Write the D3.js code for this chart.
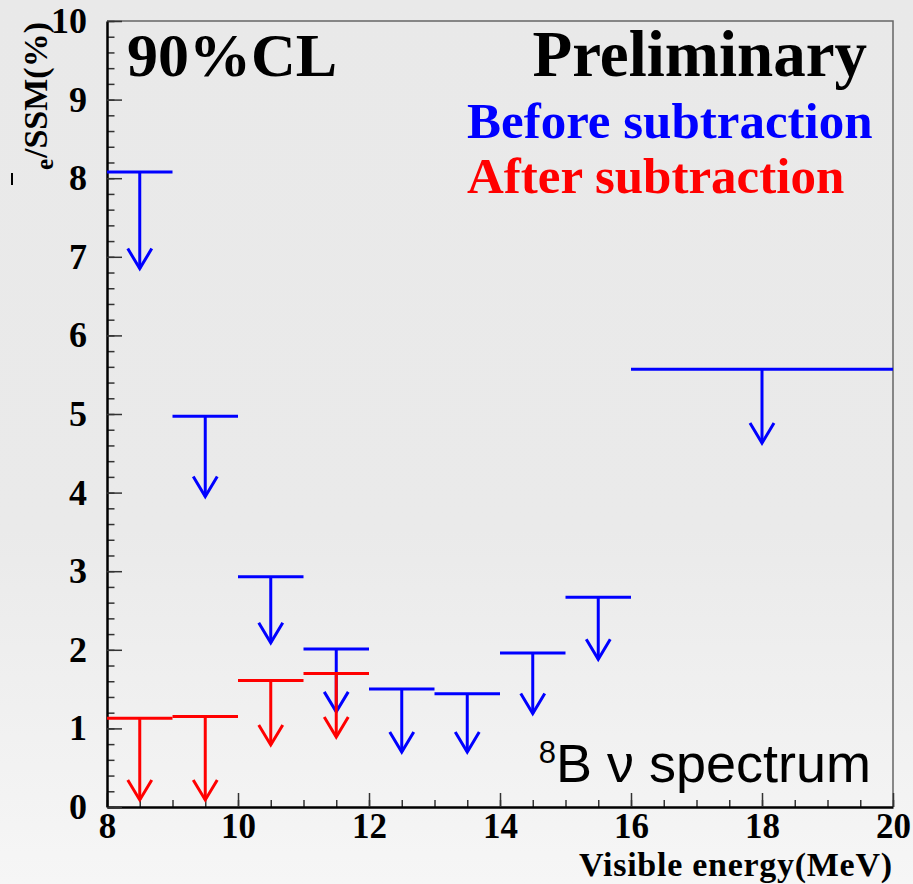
<!DOCTYPE html>
<html>
<head>
<meta charset="utf-8">
<script src="https://cdn.jsdelivr.net/npm/d3@7"></script>
<style>
  html, body { margin: 0; padding: 0; background: #ebebeb; }
  svg { display: block; }
</style>
</head>
<body>
<svg></svg>
<script>
const WIDTH = 913;
const HEIGHT = 884;

// upper limits before background subtraction (blue)
const beforeLo = [8, 9, 10, 11, 12, 13, 14, 15, 16];
const beforeHi = [9, 10, 11, 12, 13, 14, 15, 16, 20];
const beforeLimit = [8.08, 4.97, 2.93, 2.01, 1.50, 1.44, 1.96, 2.67, 5.57];
const beforeArrowTip = [6.85, 3.95, 2.09, 1.21, 0.70, 0.70, 1.19, 1.88, 4.63];

// upper limits after background subtraction (red)
const afterLo = [8, 9, 10, 11];
const afterHi = [9, 10, 11, 12];
const afterLimit = [1.13, 1.15, 1.61, 1.70];
const afterArrowTip = [0.09, 0.09, 0.79, 0.89];

const xMajorTicks = [8, 10, 12, 14, 16, 18, 20];
const xMinorTicks = d3.range(8, 20.01, 0.5);
const yMajorTicks = [0, 1, 2, 3, 4, 5, 6, 7, 8, 9, 10];
const yMinorTicks = d3.range(0, 10.01, 0.2);

const SERIF = "'Liberation Serif', 'Times New Roman', serif";
const SANS = "'Liberation Sans', Arial, sans-serif";

const xScale = d3.scaleLinear().domain([8, 20]).range([107, 893]);
const yScale = d3.scaleLinear().domain([0, 10]).range([807, 21]);

const $svg = d3.select("svg").attr("width", WIDTH).attr("height", HEIGHT);

// background
const grad = $svg.append("defs").append("linearGradient")
  .attr("id", "bg").attr("x1", 0).attr("y1", 0).attr("x2", 0).attr("y2", 1);
grad.append("stop").attr("offset", "0").attr("stop-color", "#e9e9e9");
grad.append("stop").attr("offset", "0.6").attr("stop-color", "#eaeaea");
grad.append("stop").attr("offset", "1").attr("stop-color", "#f6f6f6");
$svg.append("rect").attr("width", WIDTH).attr("height", HEIGHT).attr("fill", "url(#bg)");

// frame top / right
$svg.append("path")
  .attr("d", `M${xScale(8)},${yScale(10)}H${xScale(20)}V${yScale(0)}`)
  .attr("fill", "none").attr("stroke", "#666").attr("stroke-width", 1.5);

function styleAxis(g) {
  g.select(".domain").attr("stroke", "#000").attr("stroke-width", 2.5);
  g.selectAll(".tick line").attr("stroke", "#333").attr("stroke-width", 1.5);
  g.selectAll("text")
    .attr("fill", "#000")
    .attr("font-family", SERIF)
    .attr("font-weight", "bold")
    .attr("font-size", 36);
}

// x axis
$svg.append("g")
  .attr("transform", `translate(0,${yScale(0)})`)
  .call(d3.axisBottom(xScale).tickValues(xMinorTicks).tickSize(-7).tickSizeOuter(0).tickFormat(""))
  .call(g => g.select(".domain").remove())
  .call(styleAxis);
$svg.append("g")
  .attr("transform", `translate(0,${yScale(0)})`)
  .call(d3.axisBottom(xScale).tickValues(xMajorTicks).tickSize(-14).tickSizeOuter(0).tickPadding(6).tickFormat(d3.format("d")))
  .call(styleAxis)
  .call(g => g.selectAll("text").attr("font-size", 35));

// y axis
$svg.append("g")
  .attr("transform", `translate(${xScale(8)},0)`)
  .call(d3.axisLeft(yScale).tickValues(yMinorTicks).tickSize(-7.5).tickSizeOuter(0).tickFormat(""))
  .call(g => g.select(".domain").remove())
  .call(styleAxis);
$svg.append("g")
  .attr("transform", `translate(${xScale(8)},0)`)
  .call(d3.axisLeft(yScale).tickValues(yMajorTicks).tickSize(-15).tickSizeOuter(0).tickPadding(20).tickFormat(d3.format("d")))
  .call(styleAxis);

// limit markers: horizontal bar over the bin, arrow pointing down from its centre
function drawLimits(lo, hi, limit, tip, color) {
  const rows = lo.map((d, i) => ({ lo: d, hi: hi[i], limit: limit[i], tip: tip[i] }));
  const g = $svg.append("g")
    .attr("stroke", color).attr("stroke-width", 3).attr("fill", "none");
  const mark = g.selectAll("g").data(rows).enter().append("g");
  mark.append("line")
    .attr("x1", d => xScale(d.lo)).attr("x2", d => xScale(d.hi))
    .attr("y1", d => yScale(d.limit)).attr("y2", d => yScale(d.limit));
  mark.append("line")
    .attr("x1", d => xScale((d.lo + d.hi) / 2)).attr("x2", d => xScale((d.lo + d.hi) / 2))
    .attr("y1", d => yScale(d.limit)).attr("y2", d => yScale(d.tip));
  mark.append("path")
    .attr("d", d => {
      const cx = xScale((d.lo + d.hi) / 2);
      const ty = yScale(d.tip);
      return `M${cx - 12},${ty - 20}L${cx},${ty}L${cx + 12},${ty - 20}`;
    });
}

drawLimits(beforeLo, beforeHi, beforeLimit, beforeArrowTip, "#0000ff");
drawLimits(afterLo, afterHi, afterLimit, afterArrowTip, "#ff0000");

// texts
$svg.append("text")
  .attr("x", 127).attr("y", 76)
  .attr("font-family", SERIF).attr("font-weight", "bold").attr("font-size", 62)
  .text("90%CL");

$svg.append("text")
  .attr("x", 867).attr("y", 76).attr("text-anchor", "end")
  .attr("font-family", SERIF).attr("font-weight", "bold").attr("font-size", 65)
  .text("Preliminary");

$svg.append("text")
  .attr("x", 467).attr("y", 138)
  .attr("font-family", SERIF).attr("font-weight", "bold").attr("font-size", 51)
  .attr("fill", "#0000ff")
  .text("Before subtraction");

$svg.append("text")
  .attr("x", 467).attr("y", 193)
  .attr("font-family", SERIF).attr("font-weight", "bold").attr("font-size", 51)
  .attr("fill", "#ff0000")
  .text("After subtraction");

const spec = $svg.append("text")
  .attr("x", 871).attr("y", 782).attr("text-anchor", "end")
  .attr("font-family", SANS).attr("font-size", 54);
spec.append("tspan").attr("font-size", 31).attr("dy", -19).text("8");
spec.append("tspan").attr("dy", 19).text("B ν spectrum");

// x title
$svg.append("text")
  .attr("x", 892).attr("y", 876).attr("text-anchor", "end")
  .attr("font-family", SERIF).attr("font-weight", "bold").attr("font-size", 34)
  .attr("textLength", 313).attr("lengthAdjust", "spacing")
  .text("Visible energy(MeV)");

// y title (rotated): bar over nu, subscript e, /SSM(%)
const yTitle = $svg.append("g").attr("transform", "translate(47,158) rotate(-90)");
yTitle.append("text")
  .attr("x", 0).attr("y", 0)
  .attr("font-family", SERIF).attr("font-weight", "bold").attr("font-size", 34)
  .text("/SSM(%)");
yTitle.append("text")
  .attr("x", -1).attr("y", 6).attr("text-anchor", "end")
  .attr("font-family", SERIF).attr("font-weight", "bold").attr("font-size", 25)
  .text("e");
yTitle.append("line")
  .attr("x1", -27).attr("x2", -15).attr("y1", -35).attr("y2", -35)
  .attr("stroke", "#000").attr("stroke-width", 2);
</script>
</body>
</html>
